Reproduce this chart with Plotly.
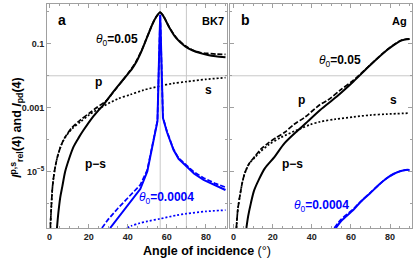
import plotly.graph_objects as go

# ---------------- data (y values are log10 exponents) ----------------
# Panel a (BK7), theta0 = 0.05 (black)
a_p_deg = [0.4, 1.0, 1.5, 2.5, 4.0, 6.0, 8.0, 11.5, 15.7, 20.8, 24.0, 29.4, 33.0, 37.0, 41.0, 44.0, 47.0, 49.0,
           51.0, 53.0, 54.6, 55.4, 56.6, 57.8, 58.8, 61.4, 64.8, 69.4, 73.0, 77.1, 81.0, 85.0, 90.0]
a_p_log = [-6.77, -6.0, -5.5, -5.0, -4.55, -4.17, -3.92, -3.62, -3.39, -3.15, -3.0, -2.76, -2.48, -2.18, -1.85,
           -1.58, -1.22, -0.92, -0.62, -0.33, -0.15, -0.08, -0.01, -0.09, -0.19, -0.49, -0.80, -1.06, -1.19,
           -1.27, -1.30, -1.32, -1.33]

a_ps_deg = [3.8, 4.5, 5.5, 6.5, 8.0, 10.0, 12.3, 15.0, 17.4, 22.0, 27.6, 32.0, 36.2, 39.0, 42.0, 44.0, 47.0, 49.0,
            51.0, 53.0, 54.6, 55.4, 56.6, 57.8, 58.8, 61.4, 64.8, 69.4, 73.0, 77.1, 81.0, 85.0, 90.0]
a_ps_log = [-6.77, -6.3, -5.8, -5.48, -5.0, -4.6, -4.22, -3.93, -3.7, -3.3, -2.9, -2.55, -2.23, -2.02, -1.8, -1.61,
            -1.23, -0.93, -0.62, -0.33, -0.15, -0.08, -0.01, -0.09, -0.19, -0.50, -0.82, -1.08, -1.2, -1.29,
            -1.35, -1.39, -1.42]

a_s_deg = [0.4, 1.0, 1.5, 2.5, 4.0, 6.0, 8.0, 11.5, 15.7, 20.8, 27.6, 35.0, 41.3, 48.0, 56.6, 63.0, 70.3, 80.0, 90.0]
a_s_log = [-6.77, -6.0, -5.5, -5.0, -4.55, -4.17, -3.93, -3.66, -3.45, -3.2, -2.95, -2.72, -2.59, -2.45, -2.32,
           -2.24, -2.18, -2.11, -2.06]

# Panel a (BK7), theta0 = 0.0004 (blue)
a_p2_deg = [26.8, 30.0, 35.0, 41.3, 46.4, 50.0, 53.2, 55.2, 55.9, 56.4, 56.6, 56.8, 57.3, 58.0, 60.1, 63.4, 66.0,
            70.3, 74.0, 78.8, 85.0, 90.0]
a_p2_log = [-6.77, -6.5, -6.15, -5.75, -5.42, -4.95, -4.05, -3.4, -1.7, -0.5, -0.09, -0.5, -1.7, -3.3, -3.75, -4.3,
            -4.58, -4.82, -5.02, -5.2, -5.38, -5.49]

a_ps2_deg = [31.0, 35.0, 41.3, 46.4, 50.0, 53.2, 55.2, 55.9, 56.4, 56.6, 56.8, 57.3, 58.0, 60.1, 63.4, 66.0,
             70.3, 74.0, 78.8, 85.0, 90.0]
a_ps2_log = [-6.77, -6.45, -5.94, -5.55, -5.0, -4.08, -3.42, -1.7, -0.5, -0.09, -0.5, -1.7, -3.32, -3.77, -4.32,
             -4.6, -4.85, -5.07, -5.26, -5.45, -5.58]

a_s2_deg = [39.6, 42.0, 46.0, 50.0, 56.6, 65.0, 70.0, 80.0, 90.0]
a_s2_log = [-6.77, -6.70, -6.62, -6.56, -6.48, -6.37, -6.32, -6.25, -6.21]

# Panel b (Ag), theta0 = 0.05 (black)
b_p_deg = [1.5, 2.2, 3.2, 4.5, 5.8, 8.0, 10.9, 14.0, 17.7, 22.0, 26.2, 31.0, 36.4, 44.3, 48.3, 54.5, 61.3, 69.8,
           78.3, 83.0, 86.0, 90.0]
b_p_log = [-6.77, -6.2, -5.79, -5.35, -5.05, -4.75, -4.53, -4.3, -4.11, -3.93, -3.77, -3.52, -3.3, -2.9, -2.76,
           -2.45, -2.14, -1.66, -1.19, -0.98, -0.88, -0.84]

b_ps_deg = [6.6, 7.5, 8.9, 10.5, 12.9, 16.0, 21.1, 26.0, 32.2, 35.0, 38.1, 44.3, 52.8, 61.3, 69.8, 78.3, 83.0,
            86.0, 90.0]
b_ps_log = [-6.77, -6.4, -5.99, -5.6, -5.26, -4.9, -4.53, -4.12, -3.75, -3.6, -3.42, -3.07, -2.65, -2.18, -1.67,
            -1.2, -0.99, -0.89, -0.85]

b_s_deg = [1.5, 2.2, 3.2, 4.5, 5.8, 8.0, 10.9, 13.6, 18.0, 24.0, 31.3, 34.9, 39.2, 44.3, 52.0, 61.3, 70.0, 78.3, 90.0]
b_s_log = [-6.77, -6.2, -5.79, -5.35, -5.05, -4.76, -4.56, -4.39, -4.16, -3.94, -3.73, -3.64, -3.53, -3.44,
           -3.36, -3.29, -3.23, -3.2, -3.17]

# Panel b (Ag), theta0 = 0.0004 (blue)
b_p2_deg = [51.5, 55.0, 61.3, 65.0, 69.8, 74.0, 78.3, 82.0, 85.1, 88.0, 90.0]
b_p2_log = [-6.77, -6.5, -6.17, -5.94, -5.67, -5.43, -5.21, -5.07, -4.99, -4.95, -4.95]
b_ps2_deg = [52.3, 55.0, 61.3, 65.0, 69.8, 74.0, 78.3, 82.0, 85.1, 88.0, 90.0]
b_ps2_log = [-6.77, -6.55, -6.2, -5.95, -5.68, -5.43, -5.21, -5.07, -4.99, -4.95, -4.95]

# reference lines
a_ref_angles = [56.6, 70.0]
ref_level = 0.01

# ticks
x_tickvals = [0, 20, 40, 60, 80]
x_minor = [5, 10, 15, 25, 30, 35, 45, 50, 55, 65, 70, 75, 85, 90]
y_tickvals = [1e-1, 1e-3, 1e-5, 1e-7]
y_ticktext = ["<b>0.1</b>", "<b>0.001</b>", "<b>10<sup>−5</sup></b>", ""]
y_minor = [1, 1e-2, 1e-4, 1e-6]

BLACK = "#000000"
BLUE = "#0000ff"
DASH = "5px,2px"
DOT = "2px,2px"


def lin(v):
    return [10 ** e for e in v]


fig = go.Figure()


def add(xs, ys, color, dash, width, axis, shape="spline"):
    xa, ya = ("x", "y") if axis == 1 else ("x2", "y2")
    fig.add_trace(go.Scatter(x=xs, y=lin(ys), mode="lines", xaxis=xa, yaxis=ya,
                             line=dict(color=color, dash=dash, width=width, shape=shape,
                                       smoothing=0.8 if shape == "spline" else None),
                             showlegend=False, hoverinfo="skip"))


# panel a
add(a_s_deg, a_s_log, BLACK, DOT, 1.7, 1)
add(a_p_deg, a_p_log, BLACK, DASH, 1.7, 1)
add(a_ps_deg, a_ps_log, BLACK, "solid", 2.0, 1)
add(a_s2_deg, a_s2_log, BLUE, DOT, 1.7, 1)
add(a_p2_deg, a_p2_log, BLUE, DASH, 1.7, 1, "linear")
add(a_ps2_deg, a_ps2_log, BLUE, "solid", 2.0, 1, "linear")
# panel b
add(b_s_deg, b_s_log, BLACK, DOT, 1.7, 2)
add(b_p_deg, b_p_log, BLACK, DASH, 1.7, 2)
add(b_ps_deg, b_ps_log, BLACK, "solid", 2.0, 2)
add(b_p2_deg, b_p2_log, BLUE, DASH, 1.7, 2)
add(b_ps2_deg, b_ps2_log, BLUE, "solid", 2.0, 2)

# geometry (pixels)
W_FIG, H_FIG = 415, 262
L, R, T, B = 46.7, 412.0, 4.0, 228.5
PW, PH = R - L, B - T


def px(x):
    return (x - L) / PW


def py(y):
    return (B - y) / PH


FRAME = "#a0a0a0"
TICKFONT = dict(family="Liberation Sans, Arial, sans-serif", size=9, color="#222")

common_x = dict(type="linear", showline=True, linecolor=FRAME, linewidth=1, mirror="ticks",
                ticks="inside", ticklen=4, tickcolor=FRAME, tickwidth=1, showgrid=False, zeroline=False,
                tickvals=x_tickvals, ticktext=[f"<b>{v}</b>" for v in x_tickvals], tickfont=TICKFONT,
                minor=dict(tickvals=x_minor, ticks="inside", ticklen=2, tickcolor=FRAME, showgrid=False))
common_y = dict(type="log", range=[-6.77, 0.25], showline=True, linecolor=FRAME, linewidth=1, mirror="ticks",
                ticks="inside", ticklen=4, tickcolor=FRAME, tickwidth=1, showgrid=False, zeroline=False,
                tickvals=y_tickvals, tickfont=TICKFONT,
                minor=dict(tickvals=y_minor, ticks="inside", ticklen=2, tickcolor=FRAME, showgrid=False))

fig.update_layout(
    width=W_FIG, height=H_FIG, margin=dict(l=L, r=W_FIG - R, t=T, b=H_FIG - B),
    paper_bgcolor="white", plot_bgcolor="white", showlegend=False,
    xaxis=dict(common_x, domain=[0, px(227.3)], range=[-1.3, 91.0], anchor="y"),
    yaxis=dict(common_y, ticktext=y_ticktext, anchor="x", domain=[0, 1]),
    xaxis2=dict(common_x, domain=[px(230.0), 1], range=[-1.7, 91.2], anchor="y2"),
    yaxis2=dict(common_y, showticklabels=False, anchor="x2", domain=[0, 1]),
)

GRID = "#c8c8c8"
shapes = []
for ang in a_ref_angles:
    shapes.append(dict(type="line", xref="x", yref="y domain", x0=ang, x1=ang, y0=0, y1=1,
                       line=dict(color=GRID, width=1), layer="below"))
for xr, yr in (("x domain", "y"), ("x2 domain", "y2")):
    shapes.append(dict(type="line", xref=xr, yref=yr, x0=0, x1=1, y0=ref_level, y1=ref_level,
                       line=dict(color=GRID, width=1), layer="below"))
fig.update_layout(shapes=shapes)

FONT = "Liberation Sans, Arial, sans-serif"


def note(text, x, y, size=12, color="black", xanchor="center", angle=0):
    fig.add_annotation(text=text, xref="paper", yref="paper", x=px(x), y=py(y), showarrow=False,
                       xanchor=xanchor, yanchor="middle", textangle=angle,
                       font=dict(family=FONT, size=size, color=color))


th05 = "<i>θ</i><sub>0</sub><b>=0.05</b>"
th04 = "<i>θ</i><sub>0</sub><b>=0.0004</b>"
note("<b>a</b>", 61.7, 20.5, 14)
note("<b>BK7</b>", 225.5, 21, 11, xanchor="right")
note(th05, 116.5, 40.5, 12)
note("<b>p</b>", 98, 82, 12)
note("<b>s</b>", 208, 90, 12)
note("<b>p−s</b>", 95, 164, 12)
note(th04, 166.5, 198.5, 12, color=BLUE)
note("<b>b</b>", 245, 20.5, 14)
note("<b>Ag</b>", 408.5, 21, 11, xanchor="right")
note(th05, 340.3, 61.5, 12)
note("<b>p</b>", 301.7, 100.5, 12)
note("<b>s</b>", 393, 100.5, 12)
note("<b>p−s</b>", 292.7, 164, 12)
note(th04, 321.8, 206.5, 12, color=BLUE)
note("<b>Angle of incidence</b> (°)", 207, 251.5, 12.5)
note("<b><i>I</i><sup>p,s</sup><sub>rel</sub>(4) and <i>I</i><sub>pd</sub>(4)</b>", 16, 128, 12.5, angle=-90)

fig.write_html("out.html", config={"displayModeBar": False},
               post_script="document.body.style.margin='0';document.body.style.overflow='hidden';")
